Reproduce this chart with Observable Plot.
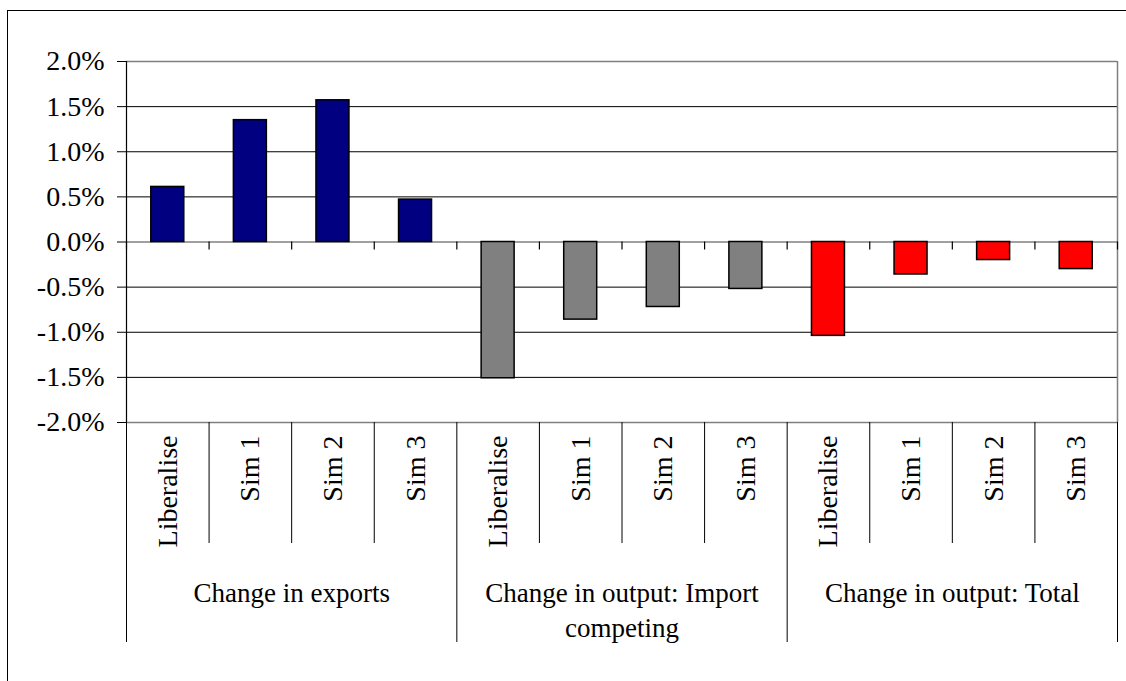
<!DOCTYPE html>
<html>
<head>
<meta charset="utf-8">
<script src="https://cdn.jsdelivr.net/npm/d3@7"></script>
<script src="https://cdn.jsdelivr.net/npm/@observablehq/plot@0.6"></script>
<style>
  html, body { margin: 0; padding: 0; background: #fff; }
  #wrap { position: relative; width: 1126px; height: 681px; overflow: hidden; }
  #frame { position: absolute; left: 7px; top: 10px; width: 1200px; height: 800px;
           border-top: 1.5px solid #000; border-left: 1.5px solid #000; pointer-events: none; }
  #chart { position: absolute; left: 0; top: 0; }
  #chart svg, #chart svg text, #chart svg tspan { font-family: "Liberation Serif", serif !important; }
</style>
</head>
<body>
<div id="wrap"><div id="chart"></div><div id="frame"></div></div>
<script>
const groups = ["Change in exports", "Change in output: Import\ncompeting", "Change in output: Total"];
const scenarios = ["Liberalise", "Sim 1", "Sim 2", "Sim 3"];
const changeInExports = [0.0061, 0.0135, 0.0157, 0.0047];
const changeImportCompeting = [-0.0151, -0.0086, -0.0072, -0.0052];
const changeOutputTotal = [-0.0104, -0.0036, -0.0020, -0.0030];
const groupColors = ["#000080", "#808080", "#FF0000"];
const yTicks = [-0.02, -0.015, -0.01, -0.005, 0, 0.005, 0.01, 0.015, 0.02];

const series = [changeInExports, changeImportCompeting, changeOutputTotal];
const rows = [];
series.forEach((vals, gi) => vals.forEach((v, si) => rows.push({
  i: gi * scenarios.length + si, group: gi, scenario: scenarios[si], value: v
})));
const n = rows.length;
const bounds = d3.range(n + 1);
const groupBounds = bounds.filter(b => b % scenarios.length === 0);
const subBounds = bounds.filter(b => b % scenarios.length !== 0);
const yMin = yTicks[0], yMax = yTicks[yTicks.length - 1];
const fmt = d => (d * 100).toFixed(1) + "%";
const font = "Liberation Serif";

const chart = Plot.plot({
  width: 1126,
  height: 681,
  marginLeft: 126,
  marginRight: 9,
  marginTop: 61,
  marginBottom: 259,
  x: {domain: [0, n], axis: null},
  y: {domain: [yMin, yMax], axis: null},
  style: {fontFamily: font, background: "transparent", color: "#000"},
  marks: [
    Plot.ruleY(yTicks.filter(t => t !== 0 && t !== yMin && t !== yMax), {stroke: "#000", strokeWidth: 1}),
    Plot.ruleY([yMin, 0, yMax], {stroke: "#808080", strokeWidth: 1.5}),
    Plot.ruleX([n], {stroke: "#808080", strokeWidth: 1.5}),
    Plot.ruleX([0], {stroke: "#000", strokeWidth: 1.2}),
    Plot.axisY(yTicks, {tickSize: 9, tickPadding: 13, tickFormat: fmt, fontSize: 28, fontFamily: font, stroke: "#000", fill: "#000", label: null}),
    Plot.ruleX(bounds, {y1: 0, y2: 0, insetBottom: -8, stroke: "#000", strokeWidth: 1.2}),
    Plot.rectY(rows, {
      x1: d => d.i, x2: d => d.i + 1, y1: 0, y2: "value",
      fill: d => groupColors[d.group],
      insetLeft: 24.8, insetRight: 24.8,
      stroke: "#000", strokeWidth: 1.5
    }),
    Plot.ruleX(subBounds, {y1: yMin, y2: yMin, insetBottom: -121, stroke: "#000", strokeWidth: 1}),
    Plot.ruleX(groupBounds, {y1: yMin, y2: yMin, insetBottom: -220, stroke: "#000", strokeWidth: 1}),
    Plot.text(rows, {
      x: d => d.i + 0.5, y: yMin, text: "scenario",
      rotate: -90, textAnchor: "end", dy: 13, fontSize: 28, fontFamily: font, fill: "#000"
    }),
    Plot.text(groups, {
      x: (d, gi) => gi * scenarios.length + scenarios.length / 2, y: yMin, text: d => d,
      lineAnchor: "top", dy: 155, fontSize: 27, fontFamily: font, lineHeight: 1.28, fill: "#000"
    })
  ]
});
document.getElementById("chart").appendChild(chart);
</script>
</body>
</html>
